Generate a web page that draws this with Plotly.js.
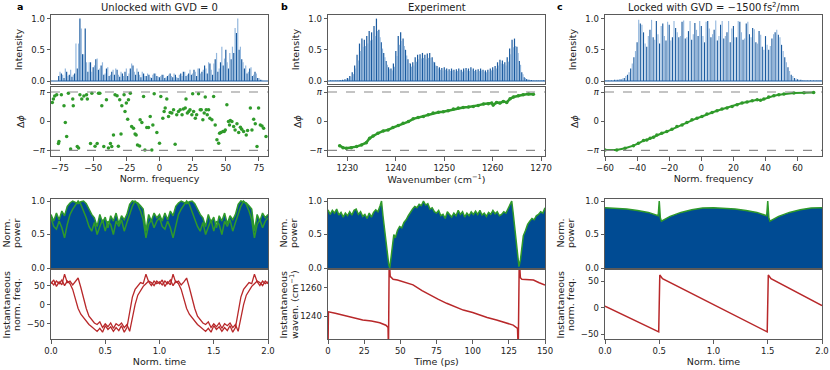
<!DOCTYPE html>
<html><head><meta charset="utf-8">
<script src="https://cdn.plot.ly/plotly-3.0.1.min.js"></script>
<style>body{margin:0;padding:0;background:#fff}#chart{width:830px;height:370px}</style>
</head><body><div id="chart"></div>
<script>
// ---------- Panel a : unlocked spectrum (dark lines at even f, light lines at odd f)
const aDark = [0.08,0.12,0.05,0.15,0.1,0.07,0.12,0.2,1.0,0.43,
0.84,0.15,0.3,0.22,0.35,0.18,0.25,0.1,0.2,0.08,
0.15,0.1,0.18,0.07,0.12,0.15,0.08,0.2,0.25,0.1,
0.15,0.06,0.12,0.08,0.1,0.05,0.12,0.08,0.06,0.1,
0.05,0.08,0.12,0.06,0.1,0.05,0.12,0.15,0.08,0.12,
0.1,0.18,0.08,0.2,0.15,0.25,0.12,0.28,0.1,0.35,
0.15,0.3,0.25,0.5,0.2,0.35,0.45,0.77,0.5,0.35,
0.2,0.12,0.2,0.08,0.15,0.05,0.02];
const aLight = [0.15,0.1,0.2,0.08,0.18,0.1,0.6,0.6,0.84,0.43,
0.3,0.3,0.15,0.25,0.36,0.2,0.3,0.12,0.22,0.1,
0.18,0.2,0.1,0.15,0.08,0.2,0.12,0.28,0.15,0.2,
0.1,0.15,0.08,0.12,0.06,0.1,0.12,0.07,0.08,0.1,
0.06,0.1,0.08,0.12,0.06,0.1,0.08,0.15,0.1,0.18,
0.12,0.15,0.2,0.12,0.18,0.2,0.3,0.18,0.28,0.45,
0.2,0.55,0.36,0.3,0.45,0.55,0.85,1.0,0.55,0.3,
0.25,0.15,0.22,0.1,0.12,0.05,0.02];
const aPhaseF = [-80.8,-80,-79,-77.5,-76.2,-75.8,-74,-72,-71,-70,-68.7,-67,-65.4,-65,-62,-61,-60,-58.6,-57,-55,
-54.4,-52,-51,-48.6,-47,-46,-45,-43.5,-42,-40,-38.5,-37,-36,-34.7,-33.5,-32,-31,-30,-29,-28.4,
-26.7,-26,-25,-24,-23.4,-22,-21,-19.6,-18.4,-17.6,-16.6,-15,-14.6,-13.3,-12,-11,-9.6,-8.3,-7,-5.8,
-5,-4,-2,0,1,2.5,3.5,4.3,5.5,6.8,8,9.3,10.6,11.8,13,14.3,15.6,17,18,19.4,
20,21,22,23,24.4,25,25.7,27,28,29.4,30.7,31.5,32.7,33.7,34.5,35.2,36,37,38,39.5,
40.8,42,43.3,44.6,45.3,46.3,47.8,48.8,49.6,50.8,52,52.8,53.4,54.6,55.9,57,58.4,59.7,61,62,
63.4,65.4,66.4,68.5,69.7,71,72.2,73.5,74.7,76,77.3,78.5,80.3];
const aPhaseV = [2.02,2.4,2.7,2.85,-2.4,-2.2,2.85,1.66,-0.14,-1.66,3.0,-3.0,2.4,1.66,-2.74,-2.9,2.85,2.4,2.7,2.85,
2.4,-2.4,3.0,-2.7,-2.4,3.0,3.0,1.66,-2.74,2.3,-2.9,-2.4,-2.74,-1.5,2.85,2.75,-2.7,2.3,-1.37,1.66,
2.85,1.05,1.95,0.2,2.3,3.0,-0.58,-0.76,-1.37,-1.48,-2.56,-2.67,0.14,-0.14,2.67,-3.1,-0.69,-0.69,0.5,-3.1,
-0.4,2.96,-1.23,-2.38,2.67,0.32,1.05,1.41,2.38,0.5,0.94,0.87,1.23,-2.49,0.69,1.05,1.23,0.69,1.3,1.41,
2.38,0.87,1.05,1.23,0.69,2.96,1.05,0.32,0.69,2.96,1.23,1.23,0.14,0.87,2.6,1.23,0.69,1.23,0.32,0.14,
2.67,-0.4,-2.0,-2.38,-1.3,-1.23,-1.12,-1.12,-0.94,1.77,-0.04,-0.4,0.07,-0.04,-0.58,-0.94,-0.29,-1.23,-0.65,-0.87,
-1.12,-1.48,-1.01,1.41,-0.94,0.22,-0.29,-2.74,1.41,-0.4,-0.51,-0.76,-1.66];

// ---------- Panel b : experiment spectrum (0.5 cm-1 comb)
const bDark = [0.01,0.01,0.01,0.01,0.015,0.02,0.03,0.05,0.08,0.14,
0.25,0.42,0.6,0.68,0.66,0.72,0.8,0.78,0.88,1.0,
0.82,0.62,0.45,0.32,0.22,0.2,0.28,0.48,0.72,0.78,
0.68,0.5,0.35,0.28,0.3,0.38,0.42,0.43,0.45,0.42,
0.44,0.45,0.38,0.3,0.24,0.22,0.21,0.22,0.2,0.19,
0.2,0.18,0.19,0.2,0.18,0.2,0.21,0.2,0.22,0.2,
0.18,0.19,0.2,0.18,0.17,0.18,0.2,0.22,0.24,0.3,
0.34,0.33,0.3,0.38,0.52,0.66,0.68,0.55,0.32,0.14,
0.06,0.03,0.02,0.015,0.01,0.01,0.01,0.01,0.01];
const bLight = [0.01,0.01,0.01,0.01,0.01,0.015,0.025,0.04,0.07,0.11,
0.2,0.33,0.48,0.55,0.56,0.6,0.65,0.66,0.72,0.8,
0.7,0.52,0.38,0.26,0.19,0.17,0.23,0.4,0.58,0.64,
0.56,0.41,0.29,0.23,0.25,0.31,0.35,0.36,0.37,0.35,
0.37,0.37,0.31,0.25,0.2,0.18,0.17,0.18,0.16,0.16,
0.17,0.15,0.16,0.17,0.15,0.17,0.17,0.16,0.18,0.16,
0.15,0.16,0.17,0.15,0.14,0.15,0.17,0.18,0.2,0.25,
0.28,0.27,0.25,0.31,0.43,0.54,0.56,0.45,0.26,0.11,
0.05,0.025,0.015,0.01,0.01,0.01,0.01,0.01,0.01];
const bPhaseW = [1228.4,1229.1,1229.8,1230.8,1231.9,1232.9,1233.9,1234.6,1235.3,1236.3,1237.4,1238.4,1239.4,1240.5,1241.5,
1242.6,1243.6,1244.6,1245.7,1246.7,1247.7,1248.8,1249.8,1250.8,1251.9,1252.9,1253.9,1255,1256,1257,
1258.1,1259.1,1259.8,1260.1,1260.8,1261.5,1262.2,1262.9,1263.6,1264.3,1265.3,1266.3,1267.4,1268.4];
const bPhaseV = [-2.64,-2.85,-2.92,-2.85,-2.74,-2.56,-2.31,-1.84,-1.59,-1.3,-1.05,-0.94,-0.69,-0.47,-0.22,
-0.04,0.25,0.4,0.5,0.69,0.87,0.97,1.01,1.12,1.3,1.41,1.48,1.52,1.59,1.7,
1.84,1.88,1.95,1.73,2.02,1.95,2.13,2.02,2.42,2.6,2.74,2.85,2.92,2.89];

// ---------- Panel c : locked spectrum
const cDark = [0.01,0.01,0.01,0.02,0.02,0.03,0.05,0.1,0.2,0.38,
0.62,0.92,0.78,0.55,0.82,0.7,0.96,0.6,0.92,0.65,
0.9,0.7,0.85,0.7,0.95,0.68,0.8,0.66,0.93,0.72,
0.88,0.62,0.96,0.7,0.82,0.65,0.9,0.68,0.78,0.62,
0.88,0.7,0.95,0.66,0.92,0.75,0.85,0.62,0.8,0.55,
0.72,0.5,0.68,0.78,0.74,0.58,0.38,0.22,0.1,0.05,
0.03,0.02,0.01,0.01,0.01,0.01,0.01,0.01];
const cLight = [0.01,0.01,0.01,0.02,0.03,0.04,0.08,0.14,0.28,0.48,
0.98,0.9,0.6,0.72,0.98,0.66,0.75,0.88,0.72,0.95,
0.65,0.96,0.78,0.72,0.97,0.7,0.96,0.75,0.82,0.96,
0.72,0.95,0.84,0.75,0.97,0.72,0.96,0.72,0.96,0.84,
0.7,0.96,0.78,0.68,0.95,0.7,0.83,0.6,0.74,0.5,
0.58,0.56,0.75,0.82,0.7,0.48,0.3,0.16,0.08,0.04,
0.02,0.015,0.01,0.01,0.01,0.01,0.01,0.01];
const cPhaseF = [-60,-52.7,-47.5,-42.3,-39.2,-36,-34,-31.9,-29.8,-27.7,-24.6,-21.5,-18.3,-15.2,-12,-9,-5.8,-2.7,0.4,3.5,
6.7,9.8,12.9,16,19.2,22.3,25.4,28.5,31.7,34.8,36.9,39,42,45.2,48.3,51.5,57.7,64,70];
const cPhaseV = [-3.1,-3.1,-2.92,-2.64,-2.38,-2.09,-2.02,-1.84,-1.73,-1.48,-1.3,-1.12,-0.87,-0.58,-0.4,-0.14,0.14,0.32,0.5,0.76,
0.94,1.12,1.3,1.41,1.59,1.77,1.95,2.06,2.2,2.31,2.25,2.38,2.6,2.74,2.85,2.92,3.03,3.07,3.1];

// ---------- Bottom row a : power and instantaneous frequency (t grid 0..2 step 0.025)
const aPowA = [0.80,0.70,0.82,0.72,0.85,0.78,0.92,0.97,1.00,0.98,
0.96,0.99,1.00,0.96,0.88,0.80,0.75,0.62,0.80,0.68,
0.76,0.60,0.78,0.70,0.82,0.66,0.78,0.72,0.80,0.95,
1.00,0.99,0.97,0.93,0.88,0.55,0.80,0.70,0.82,0.75,
0.80,
0.70,0.82,0.72,0.85,0.78,0.92,0.97,1.00,0.98,0.96,
0.99,1.00,0.96,0.88,0.80,0.75,0.62,0.80,0.68,0.76,
0.60,0.78,0.70,0.82,0.66,0.78,0.72,0.80,0.95,1.00,
0.99,0.97,0.93,0.88,0.55,0.80,0.70,0.82,0.75,0.80];
const aPowB = [0.75,0.62,0.58,0.70,0.60,0.45,0.65,0.80,0.88,0.95,
1.00,0.95,0.85,0.75,0.62,0.55,0.68,0.50,0.62,0.72,
0.55,0.70,0.65,0.50,0.70,0.62,0.72,0.55,0.68,0.80,
0.92,1.00,0.95,0.85,0.72,0.45,0.65,0.72,0.60,0.70,
0.75,
0.62,0.58,0.70,0.60,0.45,0.65,0.80,0.88,0.95,1.00,
0.95,0.85,0.75,0.62,0.55,0.68,0.50,0.62,0.72,0.55,
0.70,0.65,0.50,0.70,0.62,0.72,0.55,0.68,0.80,0.92,
1.00,0.95,0.85,0.72,0.45,0.65,0.72,0.60,0.70,0.75];
const aFreqA = [60,52,62,55,65,50,62,55,40,15,
-10,-25,-35,-45,-52,-58,-65,-70,-62,-72,
-55,-65,-58,-70,-60,-68,-55,-72,-60,-15,
20,40,50,58,55,80,60,50,62,55,
60,
52,62,55,65,50,62,55,40,15,-10,
-25,-35,-45,-52,-58,-65,-70,-62,-72,-55,
-65,-58,-70,-60,-68,-55,-72,-60,-15,20,
40,50,58,55,80,60,50,62,55,60];
const aFreqB = [55,65,48,60,52,80,58,62,52,60,
70,45,15,-10,-30,-40,-48,-52,-45,-60,
-50,-58,-48,-62,-50,-55,-48,-60,-52,-70,
-30,0,25,38,48,55,62,58,50,62,
55,
65,48,60,52,80,58,62,52,60,70,
45,15,-10,-30,-40,-48,-52,-45,-60,-50,
-58,-48,-62,-50,-55,-48,-60,-52,-70,-30,
0,25,38,48,55,62,58,50,62,55];

// ---------- Bottom row b
const bPowT = [0,1.5,3,4.5,6,7.5,9,10.5,12,13.5,
15,16.5,18,19.5,21,22.5,24,25.5,27,28.5,
30,31.5,33,34.5,36,37,38,39,40,41,
42,42.7,43.5,44.5,45.5,46.5,48,49.5,51,52.5,
54,55.5,57,58.5,60,61.5,63,64.5,66,67.5,
69,70.5,72,73.5,75,76.5,78,79.5,81,82.5,
84,85.5,87,88.5,90,91.5,93,94.5,96,97.5,
99,100.5,102,103.5,105,106.5,108,109.5,111,112.5,
114,115.5,117,118.5,120,121.5,123,124.5,126,127,
128,129,130,131,132,133,134,135,136.5,138,
139.5,141,142.5,144,145.5,147,148.5,150];
const bPowV = [0.87,0.80,0.86,0.82,0.88,0.79,0.83,0.76,0.82,0.78,
0.84,0.79,0.86,0.88,0.80,0.84,0.77,0.80,0.74,0.82,
0.76,0.83,0.87,0.84,0.93,1.0,0.78,0.58,0.35,0.18,
0.05,0.0,0.15,0.4,0.5,0.45,0.56,0.62,0.60,0.68,
0.72,0.78,0.84,0.88,0.92,0.90,0.95,0.93,1.0,0.94,
0.96,0.88,0.90,0.84,0.82,0.86,0.78,0.80,0.74,0.84,
0.80,0.76,0.82,0.78,0.86,0.80,0.84,0.76,0.82,0.78,
0.84,0.80,0.85,0.80,0.86,0.79,0.82,0.77,0.83,0.80,
0.86,0.81,0.84,0.78,0.80,0.84,0.82,0.88,0.95,1.0,
0.82,0.62,0.38,0.15,0.02,0.12,0.3,0.48,0.56,0.65,
0.70,0.74,0.72,0.78,0.80,0.84,0.82,0.90];
const bFreqT = [0,0.3,5,12.7,20,24,30,35.8,40,41.5,41.8,42.3,43,45,48,52,58.8,65,70,76,82,88,93.5,100,105,110,116.5,122,128,131,131.5,132.2,133,134,138,142,146,150];
const bFreqV = [1215,1243,1242,1240,1238.5,1237.2,1236.5,1235.3,1233.5,1232,1215,1280,1268,1266,1265.5,1264.2,1262,1258,1255,1252,1249,1246.5,1244.2,1242.5,1240.7,1239,1237.2,1235.5,1233.6,1231.3,1215,1280,1267,1266,1265.5,1265.4,1263.5,1261.9];

// ---------- Bottom row c
const cPowT = [0,0.1,0.2,0.3,0.4,0.49,0.5,0.51,0.52,0.6,0.7,0.8,0.9,1.0,1.1,1.2,1.3,1.4,1.49,1.5,1.51,1.52,1.6,1.7,1.8,1.9,2.0];
const cPowV = [0.9,0.895,0.88,0.86,0.83,0.78,1.0,0.75,0.7,0.77,0.83,0.87,0.895,0.9,0.895,0.88,0.86,0.83,0.78,1.0,0.75,0.7,0.77,0.83,0.87,0.895,0.9];
const cFreqT = [0,0.495,0.505,0.53,1.495,1.505,1.53,2.0];
const cFreqV = [3,-46,62,55,-46,62,55,4];

// ---------- helpers
function grid(start, step, n){ const g=[]; for(let i=0;i<n;i++) g.push(+(start+i*step).toFixed(4)); return g; }
const tGrid = grid(0, 0.025, 81);

const DARK='#1a5a9f', LIGHT='rgba(120,165,212,0.8)', GREEN='#2f9a2a', RED='#b8282a', FILL='#004b93';
const W=830, H=370;
const colX = [[51,268],[328,545],[605,822]];
const rowY = [[15,84],[87,156],[199,268],[270,339]];
const xd = c => [colX[c][0]/W, colX[c][1]/W];
const yd = r => [1-rowY[r][1]/H, 1-rowY[r][0]/H];

function axis(extra){
  return Object.assign({showline:true, linecolor:'#5a5a5a', linewidth:1, mirror:true, ticks:'outside', ticklen:3.5,
    tickwidth:0.8, tickcolor:'#333', showgrid:false, zeroline:false, tickfont:{size:8.5,color:'#222'}}, extra);
}
const ttl = (t, s) => ({text:t, font:{size:9.5,color:'#222'}, standoff:s});
const PI = Math.PI;
const phaseTicks = {tickvals:[-PI,0,PI], ticktext:['−<i>π</i>','0','<i>π</i>']};

const traces = [
  {type:'bar', x:grid(-76,2,77), y:aDark, width:0.9, marker:{color:DARK}, xaxis:'x', yaxis:'y'},
  {type:'bar', x:grid(-75,2,77), y:aLight, width:0.9, marker:{color:LIGHT}, xaxis:'x', yaxis:'y'},
  {type:'scatter', mode:'markers', x:aPhaseF, y:aPhaseV, marker:{color:GREEN,size:3.5}, xaxis:'x2', yaxis:'y2'},
  {type:'bar', x:grid(1226.5,0.5,89), y:bDark, width:0.25, marker:{color:DARK}, xaxis:'x3', yaxis:'y3'},
  {type:'bar', x:grid(1226.75,0.5,89), y:bLight, width:0.25, marker:{color:LIGHT}, xaxis:'x3', yaxis:'y3'},
  {type:'scatter', mode:'lines+markers', x:bPhaseW, y:bPhaseV, line:{color:GREEN,width:2.5}, marker:{color:GREEN,size:3.5}, xaxis:'x4', yaxis:'y4'},
  {type:'bar', x:grid(-60,2,68), y:cDark, width:0.7, marker:{color:DARK}, xaxis:'x5', yaxis:'y5'},
  {type:'bar', x:grid(-59,2,68), y:cLight, width:0.7, marker:{color:LIGHT}, xaxis:'x5', yaxis:'y5'},
  {type:'scatter', mode:'lines+markers', x:cPhaseF, y:cPhaseV, line:{color:GREEN,width:2}, marker:{color:GREEN,size:3.5}, xaxis:'x6', yaxis:'y6'},
  {type:'scatter', mode:'lines', x:tGrid, y:aPowA, fill:'tozeroy', fillcolor:FILL, line:{color:GREEN,width:1.5}, xaxis:'x7', yaxis:'y7'},
  {type:'scatter', mode:'lines', x:tGrid, y:aPowB, line:{color:GREEN,width:1.5}, xaxis:'x7', yaxis:'y7'},
  {type:'scatter', mode:'lines', x:tGrid, y:aFreqA, line:{color:RED,width:1.3}, xaxis:'x8', yaxis:'y8'},
  {type:'scatter', mode:'lines', x:tGrid, y:aFreqB, line:{color:RED,width:1.3}, xaxis:'x8', yaxis:'y8'},
  {type:'scatter', mode:'lines', x:bPowT, y:bPowV, fill:'tozeroy', fillcolor:FILL, line:{color:GREEN,width:1.5}, xaxis:'x9', yaxis:'y9'},
  {type:'scatter', mode:'lines', x:bFreqT, y:bFreqV, line:{color:RED,width:1.5}, xaxis:'x10', yaxis:'y10'},
  {type:'scatter', mode:'lines', x:cPowT, y:cPowV, fill:'tozeroy', fillcolor:FILL, line:{color:GREEN,width:1.5}, xaxis:'x11', yaxis:'y11'},
  {type:'scatter', mode:'lines', x:cFreqT, y:cFreqV, line:{color:RED,width:1.5}, xaxis:'x12', yaxis:'y12'}
];

const xr = [[-81.8,81.8],[1226,1270.8],[-60,75.2]];
const intR=[-0.048,1.058], phR=[-3.75,3.68], powR=[0,1.03];
const freqR=[[-90,91],[1223.8,1272.5],[-59.5,71.5]];
const specTitles=['Norm. frequency','Wavenumber (cm<sup>−1</sup>)','Norm. frequency'];
const timeTitles=['Norm. time','Time (ps)','Norm. time'];
const powTitle=['Norm.','power'];
const freqTitles=[['Instantaneous','norm. freq.'],['Instantaneous','waven. (cm<sup>−1</sup>)'],['Instantaneous','norm. freq.']];
const timeR=[[0,2],[0,150],[0,2]];
const timeTicks=[{tickvals:[0,0.5,1,1.5,2],ticktext:['0.0','0.5','1.0','1.5','2.0']},{tickvals:[0,25,50,75,100,125,150]},{tickvals:[0,0.5,1,1.5,2],ticktext:['0.0','0.5','1.0','1.5','2.0']}];
const specTicks=[{tickvals:[-75,-50,-25,0,25,50,75],ticktext:['−75','−50','−25','0','25','50','75']},{tickvals:[1230,1240,1250,1260,1270]},{tickvals:[-60,-40,-20,0,20,40,60],ticktext:['−60','−40','−20','0','20','40','60']}];
const freqTicks=[{tickvals:[-50,0,50],ticktext:['−50','0','50']},{tickvals:[1240,1260]},{tickvals:[-50,0,50],ticktext:['−50','0','50']}];
const unitTicks={tickvals:[0,0.5,1],ticktext:['0.0','0.5','1.0']};

const layout = {width:W, height:H, margin:{l:0,r:0,t:0,b:0}, paper_bgcolor:'#fff', plot_bgcolor:'#fff',
  showlegend:false, barmode:'overlay', font:{family:'DejaVu Sans, sans-serif', color:'#222'}, shapes:[], annotations:[]};

function sideLabel(text, px, py){
  layout.annotations.push({xref:'paper', yref:'paper', x:px/W, y:1-py/H, text:text, textangle:-90, showarrow:false,
    font:{size:9.5,color:'#222'}, xanchor:'center', yanchor:'middle'});
}

for(let c=0;c<3;c++){
  const n = c*2+1;
  const m = 7+c*2;
  const k = s => s===1?'':String(s);
  layout['xaxis'+k(n)] = axis({domain:xd(c), range:xr[c], anchor:'y'+k(n), showticklabels:false, ticks:''});
  layout['yaxis'+k(n)] = axis(Object.assign({domain:yd(0), range:intR, anchor:'x'+k(n), title:ttl('Intensity',6)}, unitTicks));
  layout['xaxis'+(n+1)] = axis(Object.assign({domain:xd(c), range:xr[c], anchor:'y'+(n+1), title:ttl(specTitles[c],2)}, specTicks[c]));
  layout['yaxis'+(n+1)] = axis(Object.assign({domain:yd(1), range:phR, anchor:'x'+(n+1), title:ttl('Δ<i>ϕ</i>',6)}, phaseTicks));
  layout['xaxis'+m] = axis({domain:xd(c), range:timeR[c], anchor:'y'+m, showticklabels:false, ticks:''});
  layout['yaxis'+m] = axis(Object.assign({domain:yd(2), range:powR, anchor:'x'+m}, unitTicks));
  layout['xaxis'+(m+1)] = axis(Object.assign({domain:xd(c), range:timeR[c], anchor:'y'+(m+1), title:ttl(timeTitles[c],2)}, timeTicks[c]));
  layout['yaxis'+(m+1)] = axis(Object.assign({domain:yd(3), range:freqR[c], anchor:'x'+(m+1)}, freqTicks[c]));
  const ax0 = colX[c][0];
  sideLabel(powTitle[0], ax0-45, (rowY[2][0]+rowY[2][1])/2);
  sideLabel(powTitle[1], ax0-34.5, (rowY[2][0]+rowY[2][1])/2);
  sideLabel(freqTitles[c][0], ax0-45, (rowY[3][0]+rowY[3][1])/2);
  sideLabel(freqTitles[c][1], ax0-34.5, (rowY[3][0]+rowY[3][1])/2);
  layout.shapes.push({type:'line', xref:'x'+k(n)+' domain', x0:0, x1:1, yref:'y'+k(n), y0:0, y1:0, line:{color:DARK,width:1.2}});
  [PI,-PI].forEach(v=>layout.shapes.push({type:'line', xref:'x'+(n+1)+' domain', x0:0, x1:1, yref:'y'+(n+1), y0:v, y1:v, line:{color:'#8a8a8a',width:1.2,dash:'dash'}}));
}
const colTitles=['Unlocked with GVD = 0','Experiment','Locked with GVD = −1500\u2009fs<sup>2</sup>/mm'];
const letters=['a','b','c'], letterX=[20,284,560];
for(let c=0;c<3;c++){
  layout.annotations.push({xref:'paper',yref:'paper',x:(colX[c][0]+colX[c][1])/2/W, y:1-7/H, text:colTitles[c], showarrow:false, font:{size:10,color:'#222'}, xanchor:'center', yanchor:'middle'});
  layout.annotations.push({xref:'paper',yref:'paper',x:letterX[c]/W, y:1-6/H, text:'<b>'+letters[c]+'</b>', showarrow:false, font:{size:9.5,color:'#000'}, xanchor:'center', yanchor:'middle'});
}
Plotly.newPlot('chart', traces, layout, {staticPlot:true, displayModeBar:false});
</script></body></html>
